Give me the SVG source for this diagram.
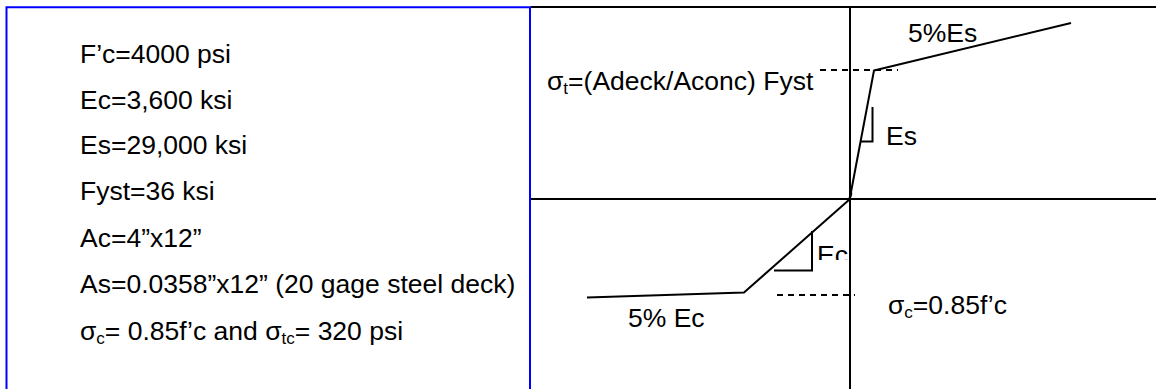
<svg xmlns="http://www.w3.org/2000/svg" width="1156" height="389" viewBox="0 0 1156 389">
  <style>
    text { font-family: "Liberation Sans", Arial, sans-serif; font-size: 26.5px; fill: #000; }
    .sub { font-size: 17px; }
    .ax { stroke: #000; stroke-width: 2; fill: none; }
    .curve { stroke: #000; stroke-width: 2; fill: none; stroke-linejoin: round; }
    .dash { stroke: #000; stroke-width: 2; fill: none; stroke-dasharray: 6 5; }
    .tri { stroke: #000; stroke-width: 2; fill: none; }
  </style>
  <defs>
    <clipPath id="ecClip"><rect x="814" y="236" width="34" height="24"/></clipPath>
  </defs>
  <rect width="1156" height="389" fill="#fff"/>

  <!-- material properties panel -->
  <g id="properties">
    <path d="M6.5,400 V7.3 H530 V400" fill="none" stroke="#0000ff" stroke-width="2"/>
    <text x="80" y="63">F’c=4000 psi</text>
    <text x="80" y="108.5">Ec=3,600 ksi</text>
    <text x="80" y="154">Es=29,000 ksi</text>
    <text x="80" y="199.5">Fyst=36 ksi</text>
    <text x="80" y="246.5">Ac=4”x12”</text>
    <text x="80" y="292.5">As=0.0358”x12” (20 gage steel deck)</text>
    <text x="80" y="339.5">σ<tspan class="sub" dy="4">c</tspan><tspan dy="-4">= 0.85f’c and σ</tspan><tspan class="sub" dy="4">tc</tspan><tspan dy="-4">= 320 psi</tspan></text>
  </g>

  <!-- stress-strain chart frame and axes -->
  <g id="axes">
    <path class="ax" d="M531,7 H1156"/>
    <path class="ax" d="M531,199 H1156"/>
    <path class="ax" d="M850,7 V389"/>
  </g>

  <g id="connectors">
    <!-- steel tension branch -->
    <path class="curve" d="M849,198 Q852,196 851,192 L874,70.5 L1071,23"/>
    <!-- concrete compression branch -->
    <path class="curve" d="M850,199 L744,292.5 L587,297.5"/>
    <!-- reference levels -->
    <path class="dash" d="M820,70 H898"/>
    <path class="dash" d="M777,295 H855"/>
    <!-- slope triangles -->
    <path class="tri" d="M872.5,107 V141.5 H860"/>
    <path class="tri" d="M812,231 V270.5 H774"/>
  </g>

  <g id="labels">
    <text x="547" y="90">σ<tspan class="sub" dy="4">t</tspan><tspan dy="-4">=(Adeck/Aconc) Fyst</tspan></text>
    <text x="908" y="42">5%Es</text>
    <text x="886" y="144.5">Es</text>
    <text x="817" y="264" clip-path="url(#ecClip)">Ec</text>
    <text x="628" y="327">5% Ec</text>
    <text x="888" y="314">σ<tspan class="sub" dy="4">c</tspan><tspan dy="-4">=0.85f’c</tspan></text>
  </g>
</svg>
